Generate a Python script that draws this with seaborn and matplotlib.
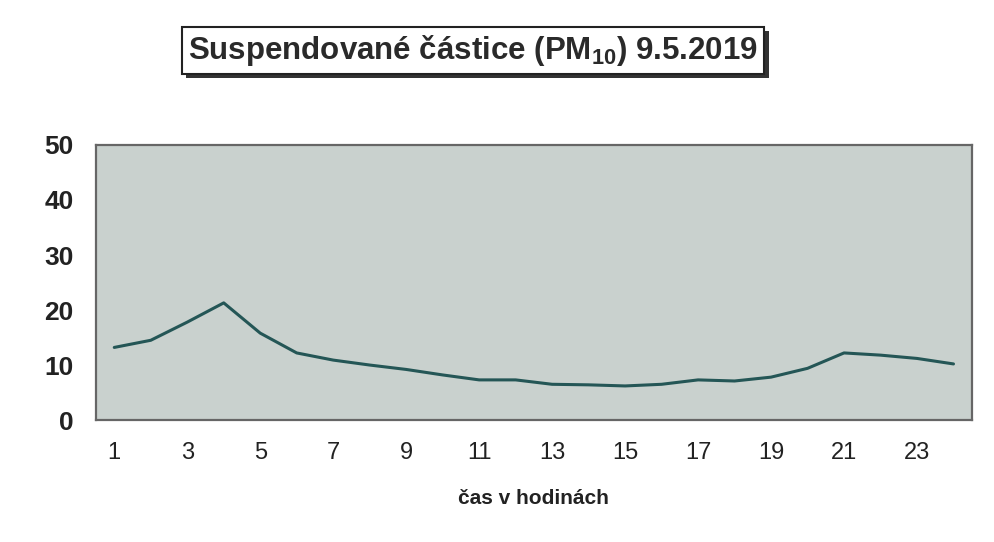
import numpy as np
import pandas as pd
import matplotlib
matplotlib.use("Agg")
import matplotlib.pyplot as plt
import matplotlib.patheffects as pe
import seaborn as sns

HOURS = list(range(1, 25))
PM10 = [13.2, 14.5, 17.8, 21.3, 15.8, 12.2, 10.9, 10.0, 9.2, 8.2, 7.3, 7.3,
        6.5, 6.4, 6.2, 6.5, 7.3, 7.1, 7.8, 9.4, 12.2, 11.8, 11.2, 10.2]

TITLE = "Suspendované částice (PM$_{10}$) 9.5.2019"
XLABEL = "čas v hodinách"

LINE_COLOR = "#245656"
BG_COLOR = "#c9d1ce"

sns.set_theme(style="white")
plt.rcParams['font.family'] = ['Liberation Sans', 'DejaVu Sans']
plt.rcParams['mathtext.fontset'] = 'custom'
plt.rcParams['mathtext.rm'] = 'Liberation Sans:bold'
plt.rcParams['mathtext.default'] = 'rm'

df = pd.DataFrame({"hour": HOURS, "pm10": PM10})

fig = plt.figure(figsize=(9.94, 5.42), dpi=100)
ax = fig.add_axes([0.0966, 0.225, 0.881, 0.5075])
ax.set_facecolor(BG_COLOR)

sns.lineplot(data=df, x="hour", y="pm10", ax=ax, color=LINE_COLOR, linewidth=2.2)

ax.set_xlim(0.5, 24.5)
ax.set_ylim(0, 50)
ax.set_xticks(range(1, 24, 2))
ax.set_xticks(range(1, 25), minor=True)
ax.set_yticks(range(0, 51, 10))
ax.tick_params(axis='x', which='both', direction='out', length=4, color='#555555',
               labelsize=17, pad=12, labelcolor='#222222')
ax.tick_params(axis='y', direction='out', length=4, color='#555555',
               labelsize=19, pad=12, labelcolor='#222222')
for lab in ax.get_yticklabels():
    lab.set_fontweight('bold')
ax.set_xlabel(XLABEL, fontsize=15, fontweight='bold', labelpad=18, color='#222222')
ax.set_ylabel("")
for s in ax.spines.values():
    s.set_color('#666666')
    s.set_linewidth(1.6)

t = fig.text(0.476, 0.907, TITLE, ha='center', va='center', fontsize=22.5,
             fontweight='bold', color='#2a2a2a',
             bbox=dict(boxstyle='square,pad=0.2', facecolor='white',
                       edgecolor='#222222', linewidth=1.5))
t.get_bbox_patch().set_path_effects([
    pe.SimplePatchShadow(offset=(3, -3), shadow_rgbFace='#333333', alpha=1.0),
    pe.Normal()])

fig.savefig("out.png", dpi=100)
